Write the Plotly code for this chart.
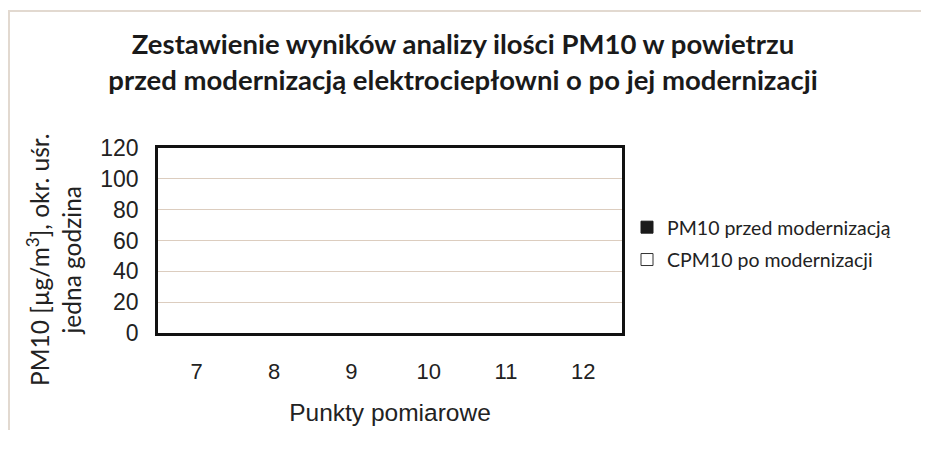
import plotly.graph_objects as go

categories = ["7", "8", "9", "10", "11", "12"]
pm10_before = [None, None, None, None, None, None]
pm10_after = [None, None, None, None, None, None]
y_ticks = [0, 20, 40, 60, 80, 100, 120]

title_text = ("Zestawienie wyników analizy ilości PM10 w powietrzu<br>"
              "przed modernizacją elektrociepłowni o po jej modernizacji")
ytitle_text = "PM10 [µg/m<sup>3</sup>], okr. uśr.<br>jedna godzina"
xtitle_text = "Punkty pomiarowe"

W, H = 921, 442
L, R, T, B = 150, 307, 140, 117
PW, PH = W - L - R, H - T - B

fig = go.Figure()
fig.add_trace(go.Bar(x=categories, y=pm10_before, name="PM10 przed modernizacją",
                     marker=dict(color="#1a1a1a", line=dict(color="#1a1a1a", width=1)),
                     legendgroup="a"))
fig.add_trace(go.Bar(x=categories, y=pm10_after, name="CPM10 po modernizacji",
                     marker=dict(color="white", line=dict(color="#333333", width=1)),
                     legendgroup="b"))

fig.update_layout(
    width=W, height=H,
    margin=dict(l=L, r=R, t=T, b=B, autoexpand=False),
    paper_bgcolor="white", plot_bgcolor="white",
    title=dict(text=title_text, x=455 / W, xanchor="center", xref="container",
               y=1 - 46 / H, yanchor="middle", yref="container",
               font=dict(family="Lato", size=27.5, color="#1a1a1a", weight="bold")),
    showlegend=True,
    legend=dict(xref="container", yref="container", x=619 / W, y=1 - 200 / H,
                xanchor="left", yanchor="top", font=dict(family="Lato", size=19.5, color="#222"),
                tracegroupgap=4, bgcolor="rgba(0,0,0,0)"),
    xaxis=dict(type="category", showline=True, mirror=True, linecolor="#111", linewidth=2.5,
               showgrid=False, ticks="", ticklabelstandoff=17, automargin=False,
               tickfont=dict(family="Liberation Sans", size=22, color="#222"),
               title=dict(text=xtitle_text, standoff=21,
                          font=dict(family="Liberation Sans", size=24.5, color="#222"))),
    yaxis=dict(range=[0, 120], tickvals=y_ticks, showline=True, mirror=True,
               linecolor="#111", linewidth=2.5, showgrid=True, gridcolor="#dccdbf",
               gridwidth=1, zeroline=False, ticks="", ticklabelstandoff=12, automargin=False,
               tickfont=dict(family="Liberation Sans", size=23, color="#222")),
    annotations=[dict(text=ytitle_text, textangle=-90, xref="paper", yref="paper",
                      x=(46 - L) / PW, xanchor="center", y=1 - (252 - T) / PH, yanchor="middle",
                      showarrow=False, align="center",
                      font=dict(family="Lato", size=24.5, color="#222"))],
    shapes=[
        dict(type="line", xref="paper", yref="paper", x0=(0 - L) / PW, x1=(W - L) / PW,
             y0=1 + (T - 3) / PH, y1=1 + (T - 3) / PH,
             line=dict(color="#e2d9d0", width=2)),
        dict(type="line", xref="paper", yref="paper", x0=(1 - L) / PW, x1=(1 - L) / PW,
             y0=1 + (T - 3) / PH, y1=1 - (422 - T) / PH,
             line=dict(color="#e2d9d0", width=2)),
    ],
)

fig.write_html("out.html")
